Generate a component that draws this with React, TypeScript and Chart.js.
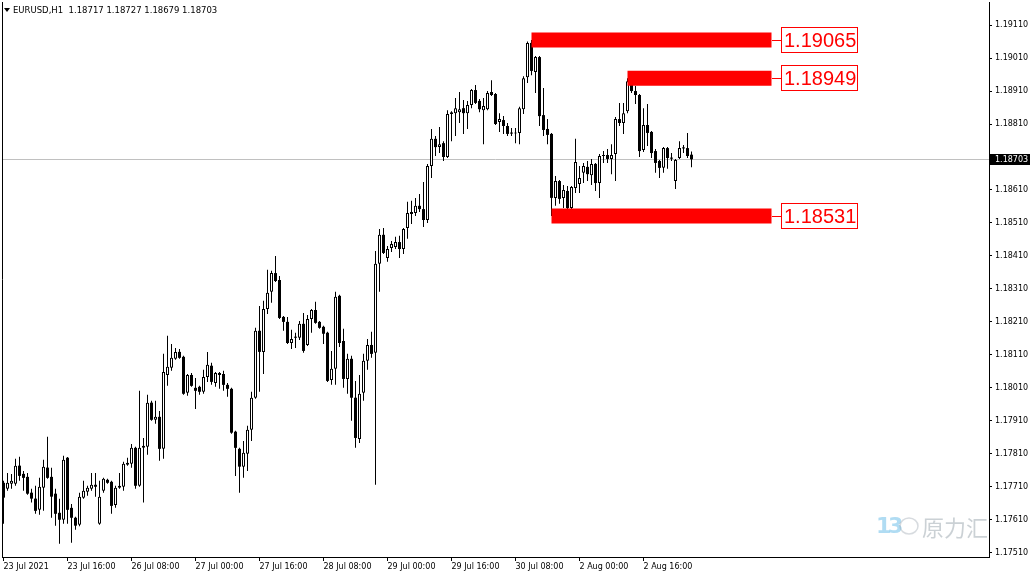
import React, { useEffect, useRef } from "react";
import { Chart, registerables } from "chart.js";

Chart.register(...registerables);

const opens = [
  1.17722, 1.17704, 1.17719, 1.17719, 1.17774, 1.17749, 1.1774, 1.17692, 1.17674, 1.1764,
  1.17707, 1.17768, 1.1774, 1.17689, 1.17631, 1.1761, 1.17798, 1.17646, 1.17616, 1.17595,
  1.17677, 1.17695, 1.17704, 1.17716, 1.17598, 1.17698, 1.17731, 1.17725, 1.17655, 1.17707,
  1.1771, 1.17777, 1.1778, 1.17828, 1.17713, 1.17828, 1.17831, 1.17965, 1.17913, 1.17922,
  1.17825, 1.18049, 1.18071, 1.18098, 1.18119, 1.18104, 1.17995, 1.18049, 1.1801, 1.18013,
  1.17998, 1.18043, 1.18077, 1.18025, 1.18055, 1.18052, 1.18019, 1.18007, 1.17877, 1.17825,
  1.17771, 1.1781, 1.17883, 1.1798, 1.18183, 1.18119, 1.18249, 1.18301, 1.18358, 1.18337,
  1.18225, 1.1821, 1.18146, 1.18165, 1.18162, 1.18204, 1.1814, 1.18219, 1.18246, 1.1821,
  1.18195, 1.18177, 1.18034, 1.18068, 1.18289, 1.18152, 1.18037, 1.18098, 1.1798, 1.17855,
  1.17995, 1.18092, 1.1814, 1.18116, 1.18386, 1.18474, 1.18404, 1.18434, 1.18437, 1.18452,
  1.18431, 1.18495, 1.18537, 1.1854, 1.18562, 1.18552, 1.18519, 1.18683, 1.18765, 1.1874,
  1.18752, 1.1871, 1.1884, 1.18843, 1.18846, 1.18858, 1.18843, 1.18868, 1.18913, 1.1888,
  1.18852, 1.18855, 1.18907, 1.18901, 1.18816, 1.18822, 1.18804, 1.18783, 1.18781, 1.18783,
  1.18855, 1.18952, 1.19056, 1.18968, 1.19013, 1.18837, 1.18795, 1.1878, 1.18586, 1.18637,
  1.18586, 1.18607, 1.18555, 1.18616, 1.18628, 1.18662, 1.1868, 1.18655, 1.18689, 1.18631,
  1.18713, 1.18716, 1.18704, 1.18719, 1.18825, 1.18813, 1.18849, 1.1894, 1.1891, 1.18898,
  1.18731, 1.18807, 1.18786, 1.18728, 1.18698, 1.18677, 1.18737, 1.18707, 1.18637, 1.18707,
  1.18737, 1.18737, 1.18717,
];
const highs = [
  1.17728, 1.17752, 1.17749, 1.17795, 1.17801, 1.17758, 1.17752, 1.17704, 1.17713, 1.17737,
  1.17792, 1.17862, 1.17768, 1.17704, 1.17674, 1.17804, 1.178, 1.17658, 1.17619, 1.17692,
  1.17728, 1.17713, 1.17752, 1.17752, 1.17728, 1.17737, 1.17734, 1.17728, 1.17713, 1.17752,
  1.17786, 1.17798, 1.1784, 1.17831, 1.18001, 1.17858, 1.17989, 1.17971, 1.17971, 1.1794,
  1.18113, 1.18168, 1.18143, 1.18131, 1.18128, 1.18107, 1.18052, 1.18055, 1.1804, 1.18016,
  1.18065, 1.18119, 1.18086, 1.18058, 1.18058, 1.18062, 1.18025, 1.1801, 1.1788, 1.17828,
  1.17849, 1.17895, 1.17998, 1.18192, 1.18258, 1.18274, 1.18368, 1.18365, 1.1841, 1.18349,
  1.18228, 1.18225, 1.18186, 1.18177, 1.18213, 1.18237, 1.18231, 1.18249, 1.18271, 1.18213,
  1.18198, 1.1818, 1.18122, 1.18301, 1.18292, 1.18189, 1.18113, 1.18107, 1.18031, 1.18049,
  1.18113, 1.18158, 1.1818, 1.18425, 1.18492, 1.18495, 1.1844, 1.18455, 1.18468, 1.18471,
  1.18495, 1.18574, 1.18577, 1.18586, 1.18598, 1.18634, 1.18689, 1.18795, 1.18774, 1.18801,
  1.18758, 1.18852, 1.18849, 1.18889, 1.18907, 1.18883, 1.1888, 1.18916, 1.18928, 1.18886,
  1.18889, 1.1891, 1.18943, 1.18904, 1.18843, 1.18834, 1.18813, 1.18798, 1.18798, 1.18862,
  1.18955, 1.1906, 1.19065, 1.19016, 1.19016, 1.18919, 1.18825, 1.18783, 1.18652, 1.1864,
  1.18625, 1.18622, 1.18622, 1.18765, 1.18683, 1.18692, 1.18698, 1.18704, 1.18692, 1.18719,
  1.18728, 1.18734, 1.18749, 1.18831, 1.18874, 1.18874, 1.18949, 1.18945, 1.18925, 1.18901,
  1.18858, 1.18871, 1.18789, 1.18734, 1.18701, 1.1874, 1.1874, 1.18722, 1.18704, 1.18758,
  1.18746, 1.18783, 1.18727,
];
const lows = [
  1.17598, 1.17698, 1.17704, 1.17713, 1.17728, 1.17698, 1.17686, 1.17662, 1.17628, 1.17625,
  1.17637, 1.17734, 1.17616, 1.17592, 1.17537, 1.17598, 1.17598, 1.1754, 1.1758, 1.1759,
  1.17674, 1.17683, 1.17698, 1.1768, 1.17595, 1.17692, 1.17719, 1.17628, 1.17646, 1.17704,
  1.17698, 1.17774, 1.17768, 1.17704, 1.1771, 1.17662, 1.17807, 1.1791, 1.17901, 1.17789,
  1.17795, 1.18016, 1.18062, 1.18095, 1.18098, 1.17989, 1.17986, 1.18013, 1.17946, 1.17989,
  1.17992, 1.18028, 1.18019, 1.18013, 1.18007, 1.18001, 1.17983, 1.17871, 1.17743, 1.17692,
  1.17737, 1.17758, 1.17849, 1.17977, 1.17998, 1.18052, 1.18234, 1.18268, 1.18331, 1.18219,
  1.18183, 1.18143, 1.18128, 1.18131, 1.18155, 1.18116, 1.18137, 1.18177, 1.18204, 1.18189,
  1.18143, 1.18028, 1.18019, 1.18019, 1.18134, 1.1801, 1.17992, 1.1791, 1.17828, 1.17843,
  1.17971, 1.18065, 1.18101, 1.17716, 1.18301, 1.18416, 1.18392, 1.18422, 1.18431, 1.18404,
  1.18416, 1.18462, 1.18507, 1.18531, 1.18543, 1.18498, 1.1851, 1.18646, 1.18713, 1.18722,
  1.18698, 1.18707, 1.18758, 1.18774, 1.18813, 1.1878, 1.18795, 1.18858, 1.18871, 1.18846,
  1.18749, 1.18852, 1.18895, 1.18807, 1.18786, 1.1878, 1.18774, 1.18774, 1.18752, 1.18749,
  1.1884, 1.18934, 1.18958, 1.18904, 1.18804, 1.18774, 1.18749, 1.18531, 1.18562, 1.18568,
  1.18555, 1.18537, 1.18537, 1.18601, 1.18601, 1.18631, 1.18637, 1.18625, 1.18607, 1.18586,
  1.18692, 1.18692, 1.18658, 1.18637, 1.18804, 1.1878, 1.18843, 1.18904, 1.18871, 1.1871,
  1.18725, 1.18743, 1.18707, 1.18662, 1.18646, 1.18662, 1.18674, 1.18698, 1.18613, 1.18704,
  1.18722, 1.18707, 1.18679,
];
const closes = [
  1.17677, 1.17722, 1.17728, 1.17774, 1.17743, 1.17737, 1.17689, 1.17674, 1.17637, 1.1771,
  1.17771, 1.17737, 1.1768, 1.17628, 1.1761, 1.17792, 1.1764, 1.17616, 1.17592, 1.1768,
  1.17698, 1.17707, 1.17716, 1.1771, 1.1768, 1.17734, 1.17722, 1.17652, 1.17707, 1.17713,
  1.1778, 1.17783, 1.17828, 1.17713, 1.17828, 1.17834, 1.17965, 1.17913, 1.17922, 1.17825,
  1.18058, 1.18074, 1.18101, 1.18119, 1.18101, 1.17992, 1.18049, 1.18016, 1.18001, 1.17998,
  1.18043, 1.1808, 1.18028, 1.18055, 1.18049, 1.18019, 1.18007, 1.17874, 1.17828, 1.17771,
  1.17813, 1.17883, 1.1798, 1.18183, 1.18119, 1.18249, 1.18298, 1.18358, 1.18334, 1.18222,
  1.1821, 1.18146, 1.18158, 1.18162, 1.18204, 1.18122, 1.18219, 1.18246, 1.18207, 1.18192,
  1.18174, 1.18031, 1.18068, 1.18286, 1.18146, 1.18037, 1.18098, 1.1798, 1.17858, 1.17992,
  1.18092, 1.1814, 1.18113, 1.18386, 1.18474, 1.18419, 1.18431, 1.18446, 1.18452, 1.18431,
  1.18492, 1.1854, 1.18543, 1.18562, 1.18552, 1.18519, 1.18683, 1.18765, 1.1874, 1.18749,
  1.1871, 1.1884, 1.18846, 1.18858, 1.18855, 1.18843, 1.18868, 1.18913, 1.18874, 1.18855,
  1.18865, 1.18904, 1.18898, 1.1881, 1.18825, 1.18804, 1.1878, 1.18781, 1.18783, 1.18858,
  1.18949, 1.19056, 1.18971, 1.19013, 1.18834, 1.18792, 1.18777, 1.18586, 1.18637, 1.18583,
  1.1861, 1.18555, 1.18619, 1.18695, 1.18646, 1.18683, 1.18658, 1.18689, 1.18631, 1.18713,
  1.18714, 1.18704, 1.18716, 1.18825, 1.18813, 1.18843, 1.1894, 1.1891, 1.18898, 1.18728,
  1.18807, 1.18783, 1.18722, 1.18692, 1.18677, 1.18737, 1.18707, 1.18705, 1.18701, 1.18737,
  1.18736, 1.18713, 1.18703,
];

const xTickIndex = [0, 16, 32, 48, 64, 80, 96, 112, 128, 144, 160];
const xTickLabels = [
  "23 Jul 2021", "23 Jul 16:00", "26 Jul 08:00", "27 Jul 00:00", "27 Jul 16:00",
  "28 Jul 08:00", "29 Jul 00:00", "29 Jul 16:00", "30 Jul 08:00", "2 Aug 00:00", "2 Aug 16:00",
];
const yTicks = [
  1.1751, 1.1761, 1.1771, 1.1781, 1.1791, 1.1801, 1.1811, 1.1821, 1.1831, 1.1841,
  1.1851, 1.1861, 1.1881, 1.1891, 1.1901, 1.1911,
];
const levelPrices = [1.19065, 1.18949, 1.18531];
const levelStartIndex = [132, 156, 137];
const levelEndIndex = 192;
const titleText = "EURUSD,H1  1.18717 1.18727 1.18679 1.18703";

export default function App() {
  const ref = useRef<HTMLCanvasElement | null>(null);

  useEffect(() => {
    const canvas = ref.current;
    if (!canvas) return;
    const n = opens.length;
    const wick: any[] = [];
    const white: any[] = [];
    const black: any[] = [];
    for (let i = 0; i < n; i++) {
      wick.push({ x: i, y: [lows[i], highs[i]] });
      if (closes[i] >= opens[i]) white.push({ x: i, y: [opens[i], closes[i]] });
      else black.push({ x: i, y: [closes[i], opens[i]] });
    }
    const lastClose = closes[n - 1];

    const levelDatasets = levelPrices.map((p, k) => ({
      type: "line" as const,
      data: [
        { x: levelStartIndex[k], y: p },
        { x: levelEndIndex, y: p },
      ],
      borderColor: "#ff0000",
      borderWidth: 15,
      borderCapStyle: "butt" as const,
      pointRadius: 0,
      fill: false,
      order: 0,
    }));

    const overlay = {
      id: "overlay",
      beforeDraw(chart: any) {
        const c = chart.ctx;
        c.save();
        c.fillStyle = "#ffffff";
        c.fillRect(0, 0, chart.width, chart.height);
        c.restore();
      },
      beforeDatasetsDraw(chart: any) {
        const c = chart.ctx;
        const ys = chart.scales.y;
        const a = chart.chartArea;
        const py = Math.round(ys.getPixelForValue(lastClose)) + 0.5;
        c.save();
        c.strokeStyle = "#c0c0c0";
        c.lineWidth = 1;
        c.beginPath();
        c.moveTo(a.left, py);
        c.lineTo(a.right, py);
        c.stroke();
        c.restore();
      },
      afterDraw(chart: any) {
        const c = chart.ctx;
        const ys = chart.scales.y;
        const xs = chart.scales.x;
        const a = chart.chartArea;
        c.save();
        c.strokeStyle = "#000";
        c.lineWidth = 1;
        c.beginPath();
        c.moveTo(a.left + 0.5, a.top);
        c.lineTo(a.left + 0.5, a.bottom);
        c.stroke();
        c.fillStyle = "#000";
        c.beginPath();
        c.moveTo(4, 8);
        c.lineTo(10, 8);
        c.lineTo(7, 12);
        c.closePath();
        c.fill();
        c.font = "8.5px 'DejaVu Sans'";
        c.textBaseline = "middle";
        c.textAlign = "left";
        c.fillText(titleText, 13, 11);
        const py = Math.round(ys.getPixelForValue(lastClose));
        c.fillStyle = "#000";
        c.fillRect(990, py - 5, 40, 11);
        c.fillStyle = "#fff";
        c.font = "8px 'DejaVu Sans'";
        c.fillText(lastClose.toFixed(5), 995, py + 0.5);
        const ex = Math.round(xs.getPixelForValue(levelEndIndex));
        c.font = "20px 'Liberation Sans'";
        levelPrices.forEach((p) => {
          const y = Math.round(ys.getPixelForValue(p));
          c.strokeStyle = "#ff0000";
          c.lineWidth = 1;
          c.beginPath();
          c.moveTo(ex, y + 0.5);
          c.lineTo(ex + 10, y + 0.5);
          c.stroke();
          c.fillStyle = "#ffffff";
          c.fillRect(ex + 9.5, y - 12.5, 76, 25);
          c.strokeRect(ex + 9.5, y - 12.5, 76, 25);
          c.fillStyle = "#ff0000";
          c.textBaseline = "middle";
          c.fillText(p.toFixed(5), ex + 12, y + 1);
        });
        // watermark
        c.globalAlpha = 0.4;
        c.fillStyle = "#3aa8e0";
        c.font = "bold 22px 'DejaVu Sans'";
        c.fillText("1", 876, 527);
        c.fillText("3", 888, 527);
        c.strokeStyle = "#9aa6b0";
        c.lineWidth = 1.5;
        c.beginPath();
        c.ellipse(909, 526, 9, 8, 0, 0, Math.PI * 2);
        c.stroke();
        c.fillStyle = "#7d8b97";
        c.font = "22px 'Noto Sans CJK SC'";
        c.fillText("原力汇", 922, 528);
        c.restore();
      },
    };

    const font = { family: "'DejaVu Sans'", size: 8 };

    const chart = new Chart(canvas, {
      type: "bar",
      data: {
        datasets: [
          ...levelDatasets,
          {
            type: "bar",
            data: black,
            backgroundColor: "#000000",
            borderWidth: 0,
            barThickness: 3,
            grouped: false,
            minBarLength: 1,
            inflateAmount: 0,
            order: 1,
          } as any,
          {
            type: "bar",
            data: white,
            backgroundColor: "#ffffff",
            borderColor: "#000000",
            borderWidth: 1,
            borderSkipped: false,
            barThickness: 3,
            grouped: false,
            minBarLength: 1,
            inflateAmount: 0,
            order: 1,
          } as any,
          {
            type: "bar",
            data: wick,
            backgroundColor: "#000000",
            borderWidth: 0,
            barThickness: 1,
            grouped: false,
            inflateAmount: 0,
            order: 2,
          } as any,
        ],
      },
      options: {
        animation: false,
        responsive: false,
        events: [],
        layout: { padding: { left: 2, top: 2, right: 0, bottom: 0 } },
        plugins: { legend: { display: false }, tooltip: { enabled: false } },
        scales: {
          x: {
            type: "linear",
            position: "bottom",
            offset: false,
            min: -0.375,
            max: 246.375,
            afterBuildTicks: (s: any) => {
              s.ticks = xTickIndex.map((v) => ({ value: v }));
            },
            afterFit: (s: any) => {
              s.height = 21;
              s.paddingLeft = 0;
              s.paddingRight = 0;
            },
            grid: { offset: false, drawOnChartArea: false, drawTicks: true, tickLength: 4, color: "#000" },
            border: { display: true, color: "#000" },
            ticks: {
              autoSkip: false,
              maxRotation: 0,
              minRotation: 0,
              align: "start",
              padding: 1,
              color: "#000",
              font,
              callback: (v: any) => {
                const k = xTickIndex.indexOf(Number(v));
                return k >= 0 ? xTickLabels[k] : "";
              },
            },
          },
          y: {
            type: "linear",
            position: "right",
            min: 1.17497,
            max: 1.19180,
            afterBuildTicks: (s: any) => {
              s.ticks = yTicks.map((v) => ({ value: v }));
            },
            afterFit: (s: any) => {
              s.width = 46;
              s.paddingTop = 0;
              s.paddingBottom = 0;
            },
            grid: { drawOnChartArea: false, drawTicks: true, tickLength: 3, color: "#000" },
            border: { display: true, color: "#000" },
            ticks: {
              padding: 3,
              color: "#000",
              font,
              callback: (v: any) => Number(v).toFixed(5),
            },
          },
        },
      } as any,
      plugins: [overlay],
    });
    return () => chart.destroy();
  }, []);

  return (
    <div style={{ position: "fixed", left: 0, top: 0, width: 1035, height: 578, background: "#fff" }}>
      <canvas ref={ref} width={1035} height={578} style={{ display: "block", width: 1035, height: 578 }} />
    </div>
  );
}
